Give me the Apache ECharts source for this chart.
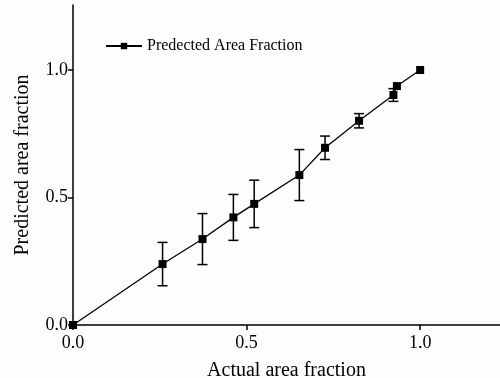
<!DOCTYPE html>
<html>
<head>
<meta charset="utf-8">
<script src="https://cdn.jsdelivr.net/npm/echarts@6/dist/echarts.min.js"></script>
<style>
  html, body { margin: 0; padding: 0; background: #fdfdfd; }
  #chart { width: 500px; height: 378px; }
</style>
</head>
<body>
<div id="chart"></div>
<script>
const actual = [0, 0.258, 0.373, 0.462, 0.522, 0.652, 0.726, 0.824, 0.923, 0.933, 1.0];
const predicted = [0, 0.239, 0.337, 0.422, 0.475, 0.588, 0.695, 0.801, 0.902, 0.937, 1.0];
const errors = [0, 0.085, 0.1, 0.09, 0.093, 0.1, 0.046, 0.028, 0.025, 0, 0];
const tickValues = [0, 0.5, 1.0];

const font = "Liberation Serif";
const points = actual.map((x, i) => [x, predicted[i]]);
const errorData = actual.map((x, i) => [x, predicted[i] - errors[i], predicted[i] + errors[i]]).filter(d => d[2] > d[1]);

const chart = echarts.init(document.getElementById("chart"));

const option = {
  backgroundColor: "#fdfdfd",
  animation: false,
  grid: { left: 73, right: 0, top: 5, bottom: 53, containLabel: false, outerBoundsMode: "none" },
  legend: {
    left: 100,
    top: 33,
    data: ["Predected Area Fraction"],
    itemWidth: 36,
    itemHeight: 8,
    itemGap: 6,
    textStyle: { fontFamily: font, fontSize: 16, color: "#000" }
  },
  xAxis: {
    type: "value",
    min: 0,
    max: 1.23,
    name: "Actual area fraction",
    nameLocation: "middle",
    nameGap: 36,
    nameTextStyle: { fontFamily: font, fontSize: 20, color: "#000" },
    axisLine: { lineStyle: { color: "#000", width: 1.5 } },
    axisTick: { show: true, length: 5, customValues: tickValues, lineStyle: { color: "#000", width: 1.5 } },
    axisLabel: { customValues: tickValues, fontFamily: font, fontSize: 18, color: "#000", margin: 9,
      formatter: v => v.toFixed(1) },
    splitLine: { show: false }
  },
  yAxis: {
    type: "value",
    min: 0,
    max: 1.255,
    name: "Predicted area fraction",
    nameLocation: "middle",
    nameGap: 40,
    nameTextStyle: { fontFamily: font, fontSize: 20, color: "#000" },
    axisLine: { show: true, lineStyle: { color: "#000", width: 1.5 } },
    axisTick: { show: true, length: 5, customValues: tickValues, lineStyle: { color: "#000", width: 1.5 } },
    axisLabel: { customValues: tickValues, fontFamily: font, fontSize: 18, color: "#000", margin: 5,
      formatter: v => v.toFixed(1) },
    splitLine: { show: false }
  },
  series: [
    {
      name: "Predected Area Fraction",
      type: "line",
      data: points,
      symbol: "rect",
      symbolSize: 8,
      lineStyle: { color: "#000", width: 1.3 },
      itemStyle: { color: "#000" },
      z: 3
    },
    {
      name: "error",
      type: "custom",
      data: errorData,
      z: 2,
      renderItem: function (params, api) {
        const x = api.value(0);
        const lo = api.coord([x, api.value(1)]);
        const hi = api.coord([x, api.value(2)]);
        const half = 5;
        const style = { stroke: "#000", lineWidth: 1.5, fill: null };
        return {
          type: "group",
          children: [
            { type: "line", shape: { x1: lo[0], y1: lo[1], x2: hi[0], y2: hi[1] }, style },
            { type: "line", shape: { x1: lo[0] - half, y1: lo[1], x2: lo[0] + half, y2: lo[1] }, style },
            { type: "line", shape: { x1: hi[0] - half, y1: hi[1], x2: hi[0] + half, y2: hi[1] }, style }
          ]
        };
      }
    }
  ]
};

chart.setOption(option);
</script>
</body>
</html>
